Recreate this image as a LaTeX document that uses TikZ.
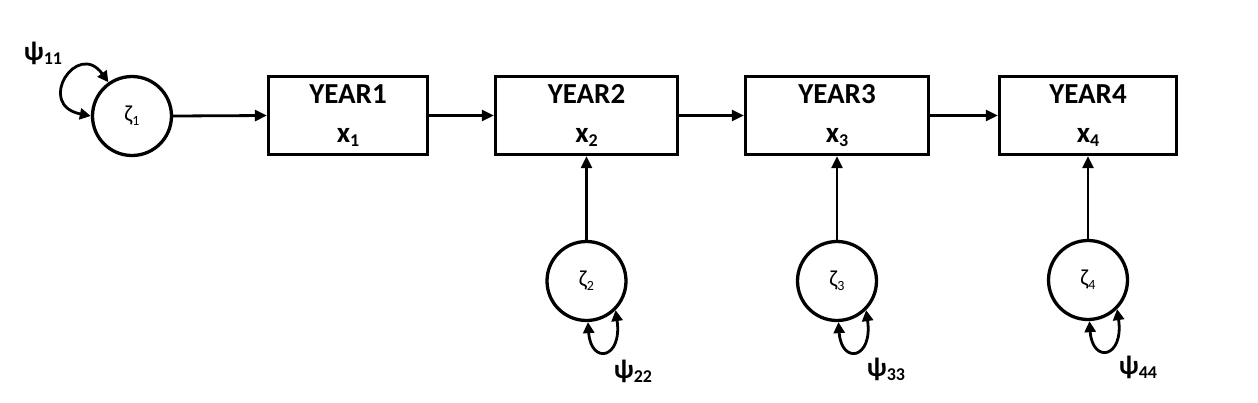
\documentclass[tikz,border=0pt]{standalone}
\usepackage{fontspec}
\setmainfont{Carlito}
\usetikzlibrary{arrows.meta}
\newcommand{\lowsub}[3]{{\fontsize{#1}{#1}\selectfont\raisebox{-#2pt}{#3}}}
\begin{document}
\begin{tikzpicture}[x=1pt,y=-1pt,
  box/.style={draw,line width=3.3pt,minimum height=78pt,inner sep=0pt,align=center,
    font=\bfseries\fontsize{29}{39}\selectfont},
  lat/.style={circle,draw,line width=3.3pt,minimum size=79pt,inner sep=0pt,
    font=\fontsize{23}{23}\selectfont},
  arr/.style={line width=2.8pt,-{Triangle[length=12pt,width=11pt]}},
  dbl/.style={line width=2.8pt,{Triangle[length=11pt,width=11pt]}-{Triangle[length=11pt,width=11pt]}},
  lab/.style={inner sep=0pt,font=\bfseries\fontsize{27}{27}\selectfont}]
\useasboundingbox (0,0) rectangle (1258,402);
% boxes
\node[box,minimum width=159pt] (y1) at (348,115.5) {YEAR1\\x\lowsub{18}{4}{1}};
\node[box,minimum width=182pt] (y2) at (586.5,115.5) {YEAR2\\x\lowsub{18}{4}{2}};
\node[box,minimum width=183pt] (y3) at (837,115.5) {YEAR3\\x\lowsub{18}{4}{3}};
\node[box,minimum width=177pt] (y4) at (1088,115.5) {YEAR4\\x\lowsub{18}{4}{4}};
% latent circles
\node[lat] (z1) at (132,116) {ζ\lowsub{14}{4}{1}};
\node[lat] (z2) at (586.5,281) {ζ\lowsub{14}{4}{2}};
\node[lat] (z3) at (837,281) {ζ\lowsub{14}{4}{3}};
\node[lat] (z4) at (1088,280) {ζ\lowsub{14}{4}{4}};
% paths
\draw[arr] (z1.east) -- (y1.west);
\draw[arr] (y1.east) -- (y2.west);
\draw[arr] (y2.east) -- (y3.west);
\draw[arr] (y3.east) -- (y4.west);
\draw[arr] (z2.north) -- (y2.south);
\draw[arr] (z3.north) -- (y3.south);
\draw[arr] (z4.north) -- (y4.south);
% variance loops
\draw[dbl] (z1.125) .. controls +(-31,-43) and +(-56,-11) .. (z1.180);
\draw[dbl] (z2.272) .. controls +(3,43) and +(7,49) .. (z2.315);
\draw[dbl] (z3.272) .. controls +(3,43) and +(7,49) .. (z3.315);
\draw[dbl] (z4.272) .. controls +(3,43) and +(7,49) .. (z4.315);
% labels
\node[lab] (p1) at (43,53) {ψ\lowsub{18}{4}{11}};
\node[lab] (p2) at (633,371) {ψ\lowsub{18}{4}{22}};
\node[lab] (p3) at (886,369) {ψ\lowsub{18}{4}{33}};
\node[lab] (p4) at (1138,367) {ψ\lowsub{18}{4}{44}};
\end{tikzpicture}
\end{document}
